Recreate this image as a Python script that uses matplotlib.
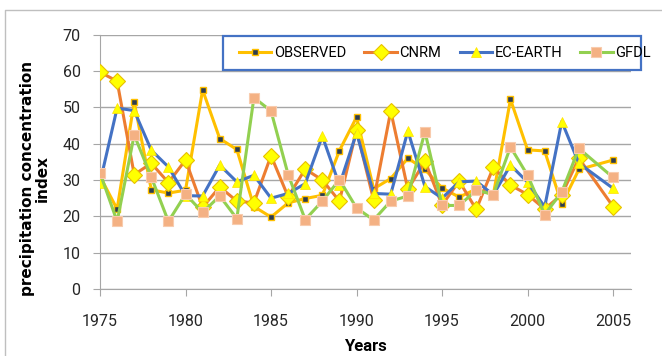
import numpy as np
import matplotlib.pyplot as plt
from matplotlib.lines import Line2D
from matplotlib.patches import Rectangle

plt.rcParams['font.family'] = ['Roboto', 'DejaVu Sans']

# years (2004 is missing in the source chart)
years = [1975, 1976, 1977, 1978, 1979, 1980, 1981, 1982, 1983, 1984,
         1985, 1986, 1987, 1988, 1989, 1990, 1991, 1992, 1993, 1994,
         1995, 1996, 1997, 1998, 1999, 2000, 2001, 2002, 2003, 2005]

observed = [31.0, 22.0, 51.5, 27.3, 26.4, 27.2, 54.8, 41.4, 38.4, 22.7,
            19.8, 23.7, 24.9, 25.8, 38.1, 47.3, 27.6, 30.4, 36.0, 32.9,
            27.8, 25.3, 27.5, 26.0, 52.2, 38.3, 38.0, 23.3, 32.9, 35.5]
cnrm = [59.7, 57.2, 31.5, 34.6, 29.3, 35.5, 22.5, 28.1, 24.2, 23.7,
        36.7, 25.4, 33.0, 30.0, 24.2, 43.7, 24.5, 49.0, 27.4, 35.2,
        23.1, 29.7, 21.9, 33.5, 28.6, 26.0, 22.0, 26.0, 36.0, 22.7]
ec_earth = [29.3, 49.8, 49.1, 38.2, 33.6, 25.7, 25.6, 34.1, 29.5, 31.3,
            25.0, 26.3, 29.0, 42.1, 28.6, 43.0, 26.3, 26.1, 43.5, 28.2,
            25.0, 29.5, 29.7, 25.9, 34.1, 29.4, 22.6, 46.1, 34.6, 27.7]
gfdl = [32.0, 18.6, 42.4, 30.8, 18.6, 26.1, 21.1, 25.6, 19.4, 52.7,
        49.0, 31.5, 19.1, 24.2, 30.1, 22.3, 19.0, 24.2, 25.6, 43.3,
        23.0, 23.0, 27.2, 26.0, 39.1, 31.3, 20.5, 26.7, 38.7, 30.7]

x_ticks = [1975, 1980, 1985, 1990, 1995, 2000, 2005]
y_ticks = [0, 10, 20, 30, 40, 50, 60, 70]

W, H = 662, 356
fig = plt.figure(figsize=(W / 100, H / 100), dpi=100)
ax = fig.add_axes([100 / W, 67 / H, 530.7 / W, 254.3 / H])

# outer chart border (only left and top visible in the crop)
fig.add_artist(Line2D([5 / W, 5 / W, 1.0], [0.0, 1 - 10 / H, 1 - 10 / H],
                      transform=fig.transFigure, color='#BFBFBF', lw=1))

ax.plot(years, observed, color='#FFC000', lw=2.2, marker='s', ms=5,
        mfc='#2E3D4F', mec='#FFC000', mew=1, label='OBSERVED', zorder=3)
ax.plot(years, cnrm, color='#ED7D31', lw=2.2, marker='D', ms=8,
        mfc='#FFFF00', mec='#E8C000', mew=0.8, label='CNRM', zorder=4)
ax.plot(years, ec_earth, color='#4472C4', lw=2.2, marker='^', ms=7,
        mfc='#FFFF00', mec='#FFE000', mew=0.5, label='EC-EARTH', zorder=5)
ax.plot(years, gfdl, color='#92D050', lw=2.2, marker='s', ms=7,
        mfc='#F4B183', mec='#F8CBAD', mew=0.8, label='GFDL', zorder=6)

ax.set_xlim(1975, 2006.03)
ax.set_ylim(0, 70)
ax.set_xticks(x_ticks)
ax.set_yticks(y_ticks)
ax.grid(axis='y', color='#A6A6A6', lw=1)
ax.set_axisbelow(True)
for s in ['top', 'right']:
    ax.spines[s].set_visible(False)
for s in ['left', 'bottom']:
    ax.spines[s].set_color('#A6A6A6')
ax.tick_params(axis='both', colors='#A6A6A6', labelcolor='#262626',
               labelsize=11.5, length=5, direction='out')
ax.tick_params(axis='x', pad=13)
ax.tick_params(axis='y', pad=9)

ax.set_xlabel('Years', fontsize=12, fontweight='bold', labelpad=7)
fig.text(35 / W, 1 - 178 / H, 'precipitation concentration\nindex',
         rotation=90, ha='center', va='center', fontsize=11, fontweight='bold',
         family=['DejaVu Sans'], linespacing=1.0)

# legend box drawn by hand, entries placed inside it
box = Rectangle((222.7 / W, 1 - 70.3 / H), 418.5 / W, 34 / H,
                transform=fig.transFigure, facecolor='white',
                edgecolor='#4472C4', lw=1.6, zorder=9, clip_on=False)
ax.add_patch(box)
leg = ax.legend(loc='center left', bbox_to_anchor=(239 / W, 1 - 53.3 / H),
                bbox_transform=fig.transFigure, ncol=4, fontsize=10.5,
                frameon=False, borderpad=0, borderaxespad=0,
                handlelength=2.2, handletextpad=0.2, columnspacing=1.25)
leg.set_zorder(10)

fig.savefig('out.png', dpi=100)
